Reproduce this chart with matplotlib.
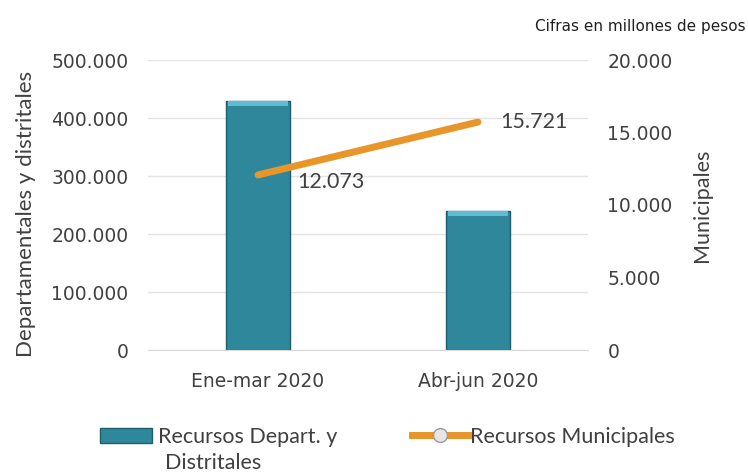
import matplotlib
matplotlib.use("Agg")
import matplotlib.pyplot as plt
from matplotlib.lines import Line2D
from matplotlib.patches import Patch
import numpy as np

categories = ["Ene-mar 2020", "Abr-jun 2020"]
dept_values = [430000, 240000]
muni_values = [12073, 15721]
muni_labels = ["12.073", "15.721"]
left_ticks = [0, 100000, 200000, 300000, 400000, 500000]
left_tick_labels = ["0", "100.000", "200.000", "300.000", "400.000", "500.000"]
right_ticks = [0, 5000, 10000, 15000, 20000]
right_tick_labels = ["0", "5.000", "10.000", "15.000", "20.000"]
legend_bar_lines = ["Recursos Depart. y", "Distritales"]
legend_line_label = "Recursos Municipales"

bar_color = "#2F879C"
bevel_color = "#5EBBD2"
line_color = "#E8952A"
text_color = "#404040"
label_font = ["Lato", "DejaVu Sans"]

fig = plt.figure(figsize=(7.48, 4.74), dpi=100)
ax = fig.add_axes([148/748, 1-350/474, 440/748, 290/474])
x = np.arange(len(categories))

bars = ax.bar(x, dept_values, width=0.29, color=bar_color, edgecolor="#1E5E6E",
              linewidth=1.0, zorder=2)
# top bevel highlight (thin band at the top of each bar)
bevel = 9000
ax.bar(x, [bevel] * len(x), bottom=[v - bevel for v in dept_values], width=0.27,
       color=bevel_color, linewidth=0, zorder=2.5)

ax.set_xlim(-0.5, 1.5)
ax.set_ylim(0, 500000)
ax.set_yticks(left_ticks)
ax.set_yticklabels(left_tick_labels)
ax.set_xticks(x)
ax.set_xticklabels(categories)
ax.grid(axis="y", color="#E3E3E3", linewidth=1.0, zorder=0)
for s in ["top", "right", "left"]:
    ax.spines[s].set_visible(False)
ax.spines["bottom"].set_color("#D9D9D9")
ax.tick_params(axis="both", length=0, labelsize=13.5, colors=text_color)
ax.tick_params(axis="y", pad=14)
ax.tick_params(axis="x", pad=16)
ax.set_ylabel("Departamentales y distritales", fontsize=16, color=text_color,
              family=label_font)
ax.yaxis.set_label_coords(-0.255, 0.47)

ax2 = ax.twinx()
ax2.plot(x, muni_values, color=line_color, linewidth=5, solid_capstyle="round", zorder=3)
ax2.set_ylim(0, 20000)
ax2.set_yticks(right_ticks)
ax2.set_yticklabels(right_tick_labels)
for s in ["top", "right", "left", "bottom"]:
    ax2.spines[s].set_visible(False)
ax2.tick_params(axis="y", length=0, labelsize=13.5, colors=text_color, pad=14)
ax2.set_ylabel("Municipales", fontsize=15.5, color=text_color, family=label_font, labelpad=14)

ax2.annotate(muni_labels[0], (x[0], muni_values[0]), xytext=(28, -5), textcoords="offset points",
             fontsize=15.5, color=text_color, family=label_font, ha="left", va="center")
ax2.annotate(muni_labels[1], (x[1], muni_values[1]), xytext=(16, 0), textcoords="offset points",
             fontsize=15.5, color=text_color, family=label_font, ha="left", va="center")

fig.text(0.997, 0.945, "Cifras en millones de pesos", ha="right", va="center",
         fontsize=11, color="#202020")

# Legend
h1 = [Patch(facecolor=bar_color, edgecolor="#1E5E6E")]
leg1 = fig.legend(h1, [legend_bar_lines[0]], loc="center left",
                  bbox_to_anchor=(100/748, 1-437/474), frameon=False,
                  handlelength=2.4, handleheight=0.65, handletextpad=0.28, borderpad=0,
                  borderaxespad=0, labelcolor=text_color,
                  prop={"family": label_font, "size": 15.5})
fig.text(165/748, 1-463/474, legend_bar_lines[1], ha="left", va="center",
         fontsize=15.5, color=text_color, family=label_font)
h2 = [Line2D([0], [0], color=line_color, linewidth=5, marker="o", markersize=10,
             markerfacecolor="#E6E6E6", markeredgecolor="#9A9A9A")]
leg2 = fig.legend(h2, [legend_line_label], loc="center left",
                  bbox_to_anchor=(412/748, 1-437/474), frameon=False,
                  handlelength=2.6, handletextpad=0.1, borderpad=0, borderaxespad=0,
                  labelcolor=text_color, prop={"family": label_font, "size": 15.5})

fig.savefig("out.png", dpi=100)
